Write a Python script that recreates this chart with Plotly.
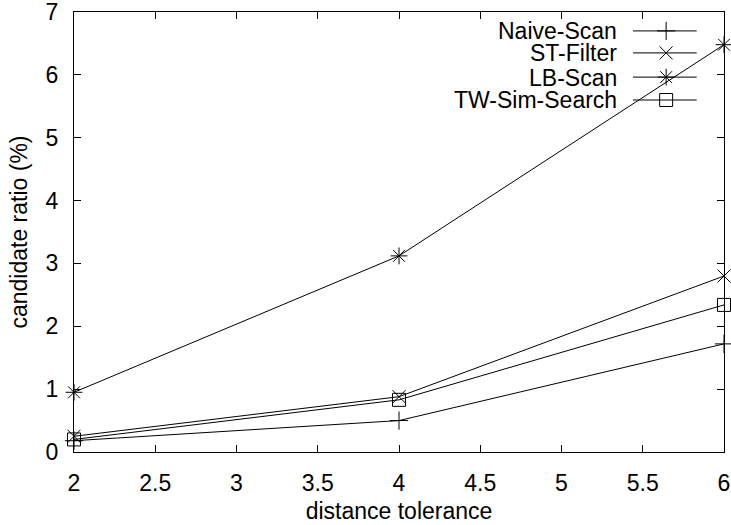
import plotly.graph_objects as go

x_vals = [2, 4, 6]
naive_scan = [0.18, 0.50, 1.72]
st_filter = [0.25, 0.88, 2.80]
lb_scan = [0.95, 3.12, 6.48]
tw_sim = [0.20, 0.83, 2.34]

series_names = ["Naive-Scan", "ST-Filter", "LB-Scan", "TW-Sim-Search"]
series_data = [naive_scan, st_filter, lb_scan, tw_sim]
symbols = ["cross-thin-open", "x-thin-open", "asterisk-open", "square-open"]
sizes = [13, 13, 14, 13]

x_ticks = [2, 2.5, 3, 3.5, 4, 4.5, 5, 5.5, 6]
x_tick_text = ["2", "2.5", "3", "3.5", "4", "4.5", "5", "5.5", "6"]
y_ticks = [0, 1, 2, 3, 4, 5, 6, 7]

FONT = "Liberation Sans, Arial, sans-serif"
FS = 23

fig = go.Figure()
for name, ys, sym, sz in zip(series_names, series_data, symbols, sizes):
    fig.add_trace(go.Scatter(
        x=x_vals, y=ys, mode="lines+markers", name=name,
        line=dict(color="black", width=1),
        marker=dict(symbol=sym, size=sz, color="black",
                    line=dict(color="black", width=1)),
        showlegend=False, cliponaxis=False,
    ))

# custom gnuplot-style legend (text left, sample right)
leg_y = [0.957, 0.907, 0.852, 0.800]
for i, (name, sym, sz) in enumerate(zip(series_names, symbols, sizes)):
    fig.add_shape(type="line", xref="paper", yref="paper",
                  x0=0.86, x1=0.958, y0=leg_y[i], y1=leg_y[i],
                  line=dict(color="black", width=1))
    fig.add_trace(go.Scatter(
        x=[0.911], y=[leg_y[i]], xaxis="x2", yaxis="y2", mode="markers",
        marker=dict(symbol=sym, size=sz, color="black",
                    line=dict(color="black", width=1)),
        showlegend=False, hoverinfo="skip",
    ))
    fig.add_annotation(xref="paper", yref="paper", x=0.837, y=leg_y[i],
                       text=name, showarrow=False, xanchor="right",
                       yanchor="middle", height=21, borderpad=0,
                       font=dict(family=FONT, size=FS, color="black"))

fig.update_layout(
    width=731, height=525,
    margin=dict(l=74, r=7, t=12, b=73),
    paper_bgcolor="white", plot_bgcolor="white",
    font=dict(family=FONT, size=FS, color="black"),
    xaxis=dict(range=[2, 6], tickvals=x_ticks, ticktext=x_tick_text,
               ticks="inside", ticklen=7, tickcolor="black",
               showline=True, linecolor="black", linewidth=1, mirror="allticks",
               showgrid=False, zeroline=False, ticklabelstandoff=10,
               automargin=False, ticklabeloverflow="allow",
               title=dict(text="distance tolerance", standoff=8,
                          font=dict(family=FONT, size=FS))),
    yaxis=dict(range=[0, 7], tickvals=y_ticks,
               ticks="inside", ticklen=7, tickcolor="black",
               showline=True, linecolor="black", linewidth=1, mirror="allticks",
               showgrid=False, zeroline=False, ticklabelstandoff=10,
               automargin=False, ticklabeloverflow="allow",
               title=dict(text="candidate ratio (%)", standoff=11,
                          font=dict(family=FONT, size=FS))),
    xaxis2=dict(range=[0, 1], overlaying="x", visible=False, domain=[0, 1]),
    yaxis2=dict(range=[0, 1], overlaying="y", visible=False),
    showlegend=False,
)

fig.write_html("out.html", config={"displayModeBar": False},
               post_script="document.body.style.margin='0';document.body.style.overflow='hidden';")
